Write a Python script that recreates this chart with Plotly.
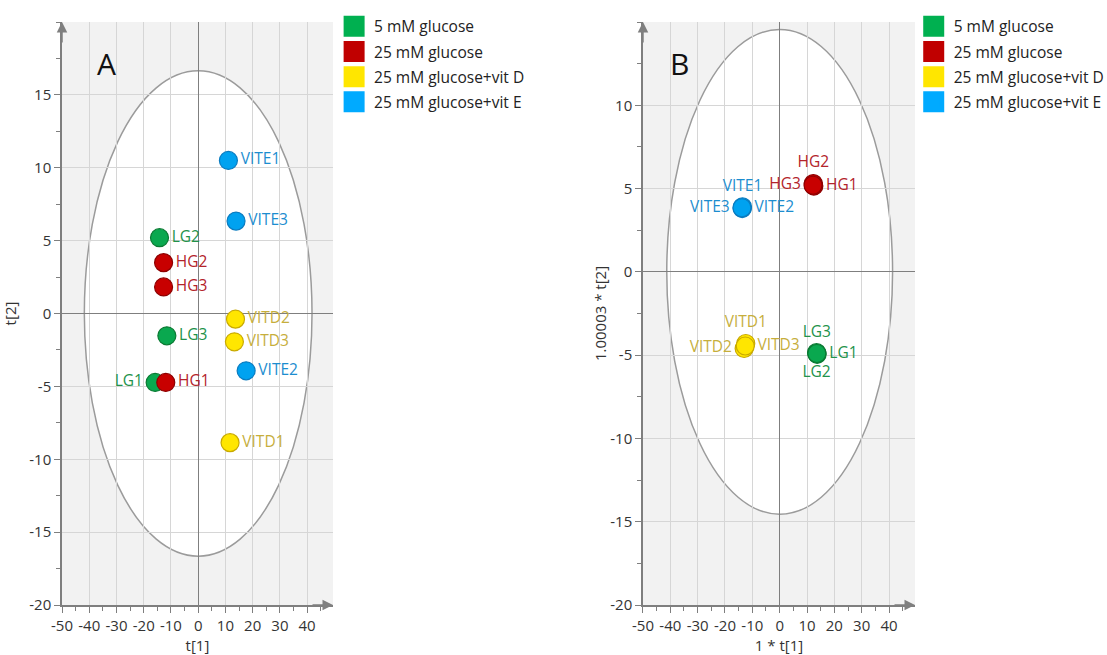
import plotly.graph_objects as go

# ---------------- data ----------------
groups = ["5 mM glucose", "25 mM glucose", "25 mM glucose+vit D", "25 mM glucose+vit E"]

# Panel A (PCA scores)
a_labels = ["LG1", "LG2", "LG3", "HG1", "HG2", "HG3", "VITD1", "VITD2", "VITD3", "VITE1", "VITE2", "VITE3"]
a_group = [0, 0, 0, 1, 1, 1, 2, 2, 2, 3, 3, 3]
a_t1 = [-15.8, -14.2, -11.5, -11.9, -12.7, -12.7, 11.7, 13.7, 13.3, 11.1, 17.6, 13.9]
a_t2 = [-4.73, 5.2, -1.53, -4.73, 3.49, 1.82, -8.86, -0.39, -1.94, 10.5, -3.93, 6.34]
a_yticks = [-20, -15, -10, -5, 0, 5, 10, 15]

# Panel B (PLS-DA scores)
b_labels = ["LG1", "LG2", "LG3", "HG1", "HG2", "HG3", "VITD1", "VITD2", "VITD3", "VITE1", "VITE2", "VITE3"]
b_group = [0, 0, 0, 1, 1, 1, 2, 2, 2, 3, 3, 3]
b_t1 = [13.7, 13.5, 13.6, 12.5, 12.3, 12.2, -12.4, -13.0, -12.6, -13.6, -13.7, -13.8]
b_t2 = [-4.95, -4.85, -4.9, 5.15, 5.3, 5.2, -4.3, -4.6, -4.45, 3.9, 3.8, 3.85]
b_yticks = [-20, -15, -10, -5, 0, 5, 10]

x_ticks = [-50, -40, -30, -20, -10, 0, 10, 20, 30, 40]

# Hotelling T2 ellipses (semi-axes, t1 and t2)
a_ellipse = [41.8, 16.65]
b_ellipse = [41.3, 14.55]

# ---------------- styles ----------------
fill_colors = ["#0aa84f", "#c80000", "#ffe600", "#00a2f0"]
edge_colors = ["#0b7a33", "#8e0000", "#c9aa00", "#0a7cc0"]
text_colors = ["#22924a", "#b3232a", "#c6ae3c", "#1c8dcf"]
legend_colors = ["#00b050", "#c00000", "#ffe600", "#00aaff"]

a_textpos = ["middle left", "middle right", "middle right", "middle right", "middle right", "middle right",
             "middle right", "middle right", "middle right", "middle right", "middle right", "middle right"]
b_textpos = ["middle right", "bottom center", "top center", "middle right", "top center", "middle left",
             "top center", "middle left", "middle right", "top center", "middle right", "middle left"]

FONT = "Open Sans"
AXC = "#7f7f7f"

fig = go.Figure()


def add_panel(labels, grp, t1, t2, tpos, xa, ya):
    for g in range(len(groups)):
        idx = [i for i, v in enumerate(grp) if v == g]
        fig.add_trace(go.Scatter(
            x=[t1[i] for i in idx], y=[t2[i] for i in idx],
            text=[labels[i] for i in idx],
            textposition=[tpos[i] for i in idx],
            mode="markers+text",
            marker=dict(size=18, color=fill_colors[g], line=dict(color=edge_colors[g], width=1.2)),
            textfont=dict(family=FONT, size=15.5, color=text_colors[g]),
            xaxis=xa, yaxis=ya, showlegend=False, cliponaxis=False,
        ))


add_panel(a_labels, a_group, a_t1, a_t2, a_textpos, "x", "y")
add_panel(b_labels, b_group, b_t1, b_t2, b_textpos, "x2", "y2")

# legend entries
for lg in ["legend", "legend2"]:
    for g, name in enumerate(groups):
        fig.add_trace(go.Scatter(
            x=[None], y=[None], mode="markers", name=name,
            marker=dict(symbol="square", size=16, color=legend_colors[g],
                        line=dict(color=legend_colors[g], width=5)),
            legend=lg, legendgroup=lg + str(g), showlegend=True,
            xaxis="x" if lg == "legend" else "x2", yaxis="y" if lg == "legend" else "y2",
        ))

# ellipses
for (xr, yr, ell) in [("x", "y", a_ellipse), ("x2", "y2", b_ellipse)]:
    fig.add_shape(type="circle", xref=xr, yref=yr,
                  x0=-ell[0], x1=ell[0], y0=-ell[1], y1=ell[1],
                  fillcolor="white", line=dict(color="#9b9b9b", width=1.5), layer="below")


def fmt(v):
    return str(v)  # ASCII hyphen-minus as in the original


def xaxis_cfg(domain, title, anchor):
    return dict(domain=domain, anchor=anchor, range=[-50, 49.5], tickmode="array",
                tickvals=x_ticks, ticktext=[fmt(v) for v in x_ticks], tickangle=0, automargin=False,
                showgrid=True, gridcolor="#d6d6d6", gridwidth=1,
                zeroline=True, zerolinecolor=AXC, zerolinewidth=1,
                showline=True, linecolor=AXC, linewidth=1.5,
                ticks="outside", ticklen=6, tickcolor=AXC,
                minor=dict(ticks="outside", ticklen=4, tickcolor=AXC, tick0=-50, dtick=5, showgrid=False),
                tickfont=dict(family=FONT, size=15, color="#333"),
                title=dict(text=title, font=dict(family=FONT, size=15, color="#333"), standoff=2))


def yaxis_cfg(domain, rng, ticks, title, anchor, standoff):
    return dict(domain=domain, anchor=anchor, range=rng, tickmode="array",
                tickvals=ticks, ticktext=[fmt(v) for v in ticks], automargin=False,
                showgrid=True, gridcolor="#d6d6d6", gridwidth=1,
                zeroline=True, zerolinecolor=AXC, zerolinewidth=1,
                showline=True, linecolor=AXC, linewidth=1.5,
                ticks="outside", ticklen=6, tickcolor=AXC,
                minor=dict(ticks="outside", ticklen=4, tickcolor=AXC, tick0=-20, dtick=2.5, showgrid=False),
                tickfont=dict(family=FONT, size=15, color="#333"),
                title=dict(text=title, font=dict(family=FONT, size=15, color="#333"), standoff=standoff))


fig.update_layout(
    width=1107, height=655,
    margin=dict(l=62, r=192, t=22, b=50, autoexpand=False),
    paper_bgcolor="white", plot_bgcolor="#f2f2f2",
    font=dict(family=FONT, size=15, color="#333"),
    xaxis=xaxis_cfg([0, 0.3177], "t[1]", "y"),
    yaxis=yaxis_cfg([0, 1], [-20, 20], a_yticks, "t[2]", "x", 12),
    xaxis2=xaxis_cfg([0.6811, 1], "1 * t[1]", "y2"),
    yaxis2=yaxis_cfg([0, 1], [-20, 15], b_yticks, "1.00003 * t[2]", "x2", 0),
    legend=dict(x=0.319, y=1.021, xanchor="left", yanchor="top", tracegroupgap=2,
                font=dict(family=FONT, size=15.5, color="#222"), bgcolor="rgba(0,0,0,0)", itemwidth=30),
    legend2=dict(x=0.9985, y=1.021, xanchor="left", yanchor="top", tracegroupgap=2,
                 font=dict(family=FONT, size=15.5, color="#222"), bgcolor="rgba(0,0,0,0)", itemwidth=30),
    showlegend=True,
)

# axis arrows and panel letters
for xr, yr, ytop in [("x", "y", 20), ("x2", "y2", 15)]:
    fig.add_annotation(x=-50, y=ytop, xref=xr, yref=yr, ax=0, ay=22, text="", showarrow=True,
                       arrowhead=2, arrowsize=1.4, arrowwidth=1.5, arrowcolor=AXC, standoff=0)
    fig.add_annotation(x=49.5, y=-20, xref=xr, yref=yr, ax=-22, ay=0, text="", showarrow=True,
                       arrowhead=2, arrowsize=1.4, arrowwidth=1.5, arrowcolor=AXC, standoff=0)

fig.add_annotation(x=0.166, y=0.928, xref="x domain", yref="y domain", text="A", showarrow=False,
                   xanchor="center", yanchor="middle", font=dict(family=FONT, size=30, color="#111"))
fig.add_annotation(x=0.136, y=0.928, xref="x2 domain", yref="y2 domain", text="B", showarrow=False,
                   xanchor="center", yanchor="middle", font=dict(family=FONT, size=30, color="#111"))

fig.write_html("out.html")
